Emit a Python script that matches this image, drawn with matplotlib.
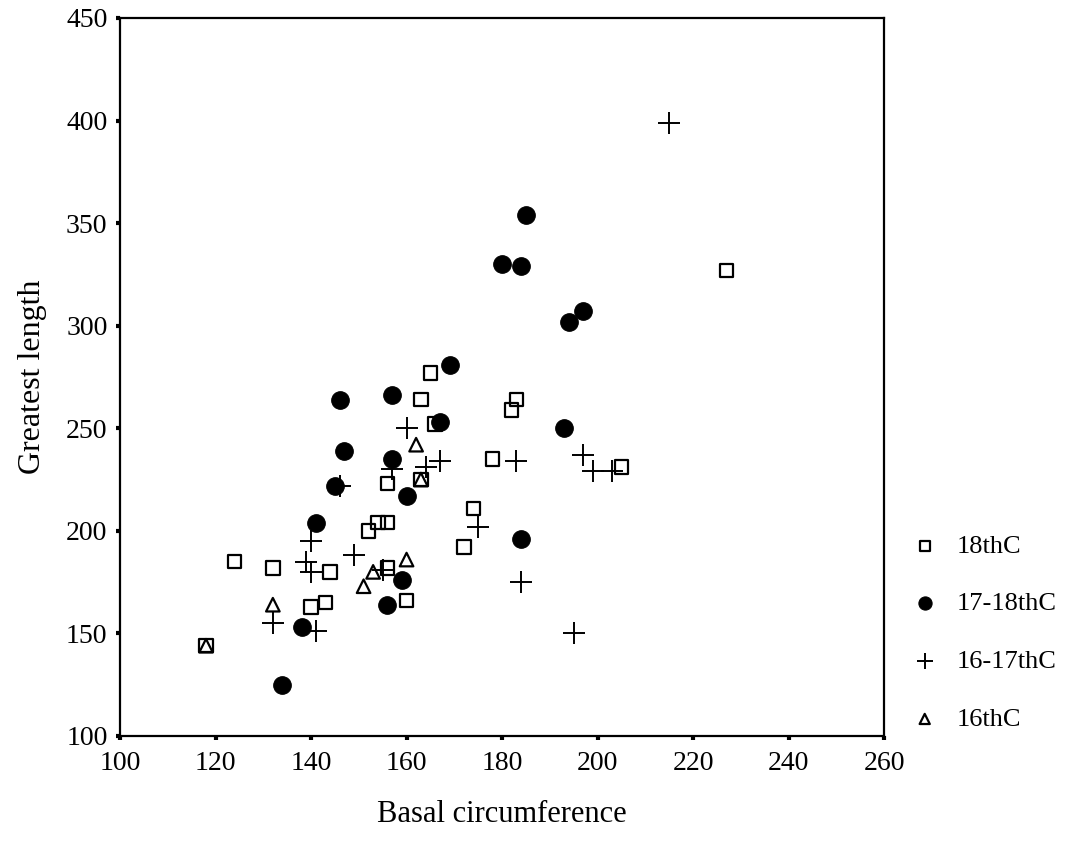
import matplotlib
matplotlib.use("Agg")
import matplotlib.pyplot as plt

# 18thC
x_18 = [118, 124, 132, 140, 143, 144, 152, 154, 156, 156, 156, 160, 163, 163, 165, 166, 172, 174, 178, 182, 183, 205, 227]
y_18 = [144, 185, 182, 163, 165, 180, 200, 204, 204, 223, 182, 166, 225, 264, 277, 252, 192, 211, 235, 259, 264, 231, 327]
# 17-18thC
x_1718 = [134, 138, 141, 145, 146, 147, 156, 157, 157, 159, 160, 167, 169, 180, 184, 185, 184, 193, 194, 197]
y_1718 = [125, 153, 204, 222, 264, 239, 164, 266, 235, 176, 217, 253, 281, 330, 329, 354, 196, 250, 302, 307]
# 16-17thC
x_1617 = [132, 139, 140, 140, 141, 146, 149, 155, 157, 160, 164, 167, 175, 183, 184, 195, 197, 199, 203, 215]
y_1617 = [155, 185, 195, 180, 151, 222, 188, 181, 230, 250, 231, 234, 202, 234, 175, 150, 237, 229, 229, 399]
# 16thC
x_16 = [118, 132, 151, 153, 160, 162, 163]
y_16 = [144, 164, 173, 180, 186, 242, 225]

xticks = [100, 120, 140, 160, 180, 200, 220, 240, 260]
yticks = [100, 150, 200, 250, 300, 350, 400, 450]

plt.rcParams['font.family'] = ['Liberation Serif', 'DejaVu Serif']

fig = plt.figure(figsize=(10.69, 8.57), dpi=100)
ax = fig.add_axes([0.1123, 0.1412, 0.7147, 0.8378])

ax.scatter(x_18, y_18, marker='s', s=95, facecolors='none', edgecolors='black',
           linewidths=1.6, label='18thC', zorder=3)
ax.scatter(x_1718, y_1718, marker='o', s=160, facecolors='black', edgecolors='black',
           linewidths=0.8, label='17-18thC', zorder=3)
ax.scatter(x_1617, y_1617, marker='+', s=260, color='black',
           linewidths=1.4, label='16-17thC', zorder=3)
ax.scatter(x_16, y_16, marker='^', s=95, facecolors='none', edgecolors='black',
           linewidths=1.6, label='16thC', zorder=4)

ax.set_xlim(100, 260)
ax.set_ylim(100, 450)
ax.set_xticks(xticks)
ax.set_yticks(yticks)
ax.tick_params(axis='both', direction='out', length=3, width=3, labelsize=20)
ax.tick_params(axis='x', pad=8)
ax.tick_params(axis='y', pad=6)
for sp in ax.spines.values():
    sp.set_linewidth(1.6)

ax.set_xlabel('Basal circumference', fontsize=22, labelpad=17)
ax.set_ylabel('Greatest length', fontsize=23, labelpad=14)

fig.legend(loc='center left', bbox_to_anchor=(0.828, 0.262), frameon=False,
           fontsize=19, labelspacing=1.3, handletextpad=0.6, markerscale=0.75,
           handlelength=1.2)

fig.savefig('out.png', dpi=100)
